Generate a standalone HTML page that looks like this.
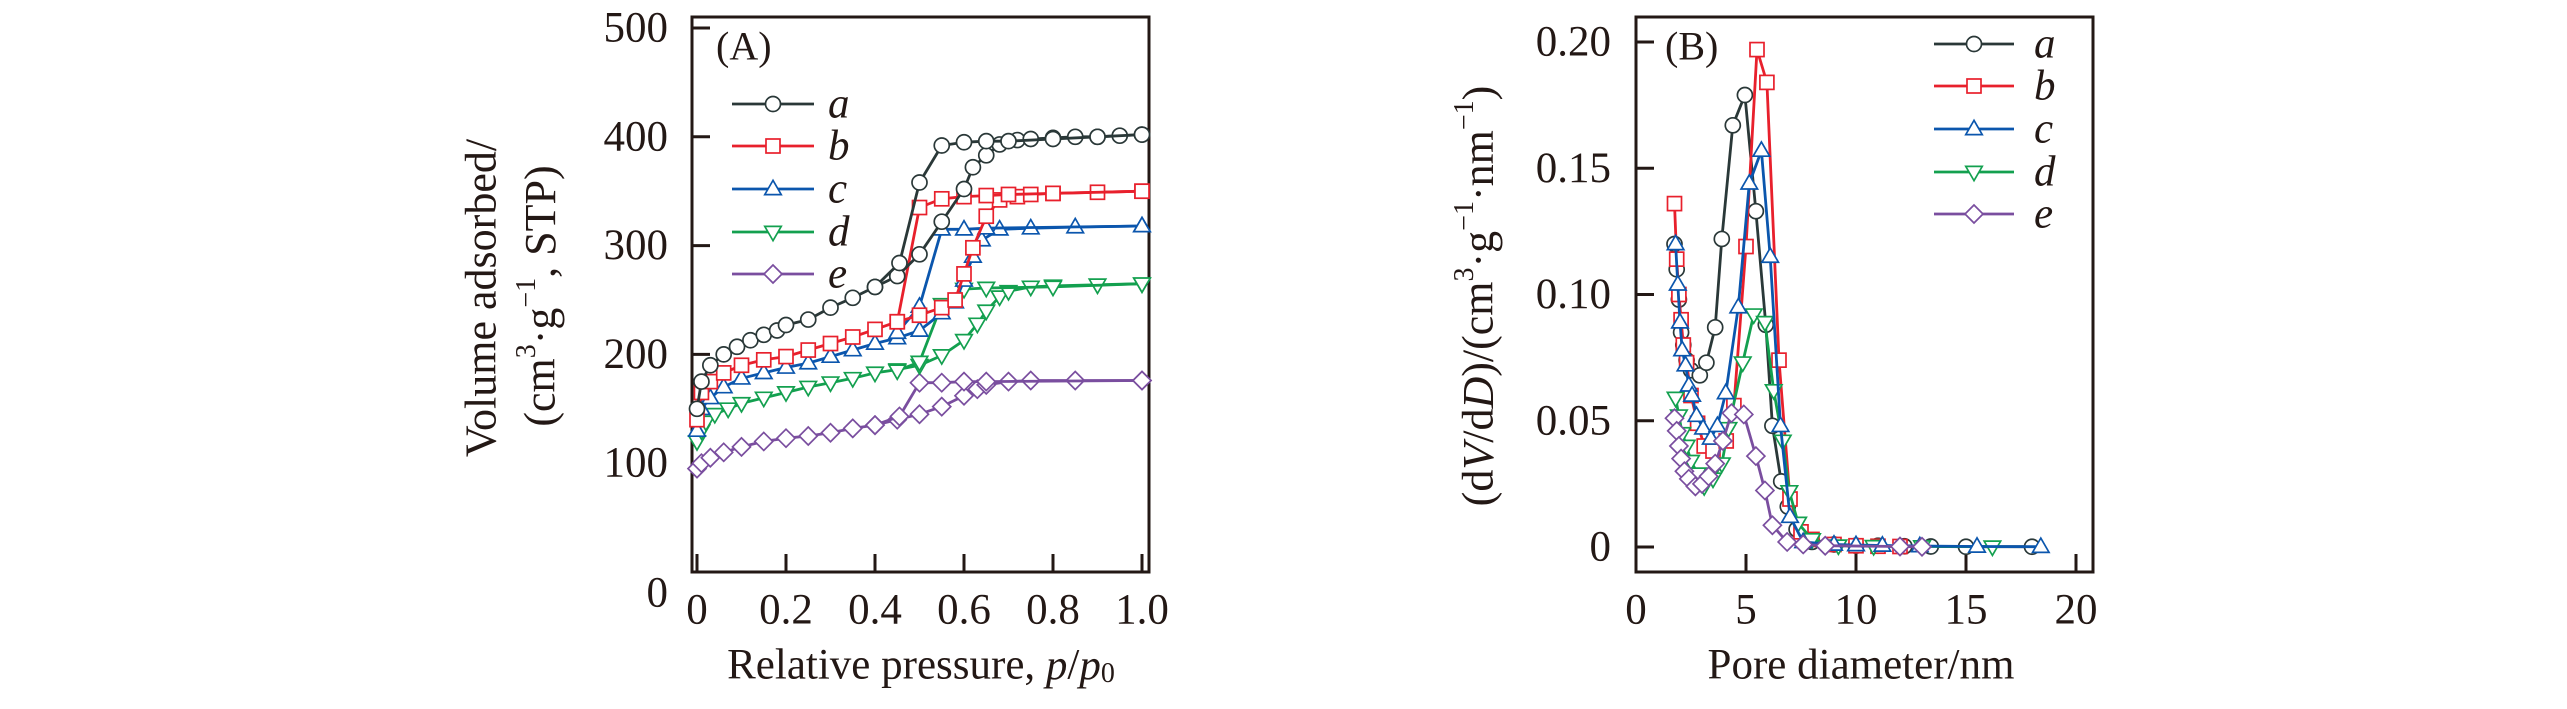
<!DOCTYPE html>
<html><head><meta charset="utf-8"><style>
html,body{margin:0;padding:0;background:#fff;}
svg{display:block;font-family:"Liberation Serif",serif;}
</style></head><body>
<svg id="chart" width="2567" height="709" viewBox="0 0 2567 709" xmlns="http://www.w3.org/2000/svg" style="position:absolute;left:0;top:0">
<rect width="2567" height="709" fill="#fff"/>
<g id="panelA"></g>
<g id="panelB"></g>
</svg>
<script>
// ---------- Panel A data (isotherms) ----------
const aTicksX = [0, 0.2, 0.4, 0.6, 0.8, 1.0];
const aTickLabelsX = ["0", "0.2", "0.4", "0.6", "0.8", "1.0"];
const aTicksY = [0, 100, 200, 300, 400, 500];
const aTickLabelsY = ["0", "100", "200", "300", "400", "500"];

const isoA_adsP = [0,0.01,0.03,0.06,0.09,0.12,0.15,0.18,0.2,0.25,0.3,0.35,0.4,0.45,0.5,0.55,0.6,0.62,0.65,0.68,0.72,0.75,0.8,0.85,0.9,0.95,1.0];
const isoA_adsV = [150,175,190,200,207,213,218,222,227,232,243,252,262,272,292,322,352,372,383,393,397,398,399,400,400,401,402];
const isoA_desP = [1.0,0.9,0.8,0.7,0.65,0.6,0.55,0.5,0.455,0.4];
const isoA_desV = [402,400,398,396,396,395,392,358,284,262];

const isoB_adsP = [0,0.01,0.03,0.06,0.1,0.15,0.2,0.25,0.3,0.35,0.4,0.45,0.5,0.55,0.58,0.6,0.62,0.65,0.68,0.72,0.75,0.8,0.9,1.0];
const isoB_adsV = [140,165,175,183,190,195,198,204,210,216,223,230,236,243,250,274,298,327,342,345,347,348,349,350];
const isoB_desP = [1.0,0.8,0.7,0.65,0.6,0.55,0.5,0.45];
const isoB_desV = [350,348,347,346,345,343,335,230];

const isoC_adsP = [0,0.01,0.03,0.06,0.1,0.15,0.2,0.25,0.3,0.35,0.4,0.45,0.5,0.55,0.58,0.6,0.62,0.64,0.68,0.75,0.85,1.0];
const isoC_adsV = [130,150,160,170,178,183,188,192,198,204,210,215,222,238,248,268,290,305,315,316,317,318];
const isoC_desP = [1.0,0.65,0.6,0.55,0.5,0.45];
const isoC_desV = [318,316,315,315,244,220];

const isoD_adsP = [0,0.01,0.02,0.04,0.07,0.1,0.15,0.2,0.25,0.3,0.35,0.4,0.45,0.5,0.55,0.6,0.63,0.65,0.68,0.7,0.75,0.8,0.9,1.0];
const isoD_adsV = [120,130,138,145,150,155,160,165,170,174,178,183,186,190,199,213,228,240,253,258,262,263,264,265];
const isoD_desP = [1.0,0.8,0.65,0.6,0.55,0.5,0.45];
const isoD_desV = [265,262,261,260,246,193,185];

const isoE_adsP = [0,0.01,0.03,0.06,0.1,0.15,0.2,0.25,0.3,0.35,0.4,0.45,0.5,0.55,0.6,0.63,0.65,0.7,0.75,0.85,1.0];
const isoE_adsV = [95,100,105,110,115,120,123,125,128,132,135,140,145,152,162,168,172,175,176,176,176];
const isoE_desP = [1.0,0.65,0.6,0.55,0.5,0.455,0.4];
const isoE_desV = [176,175,175,174,174,143,135];

// ---------- Panel B data (pore size distribution) ----------
const bTicksX = [0, 5, 10, 15, 20];
const bTickLabelsX = ["0", "5", "10", "15", "20"];
const bTicksY = [0, 0.05, 0.10, 0.15, 0.20];
const bTickLabelsY = ["0", "0.05", "0.10", "0.15", "0.20"];

const psdA_D = [1.75,1.85,1.95,2.05,2.15,2.3,2.5,2.9,3.2,3.6,3.9,4.4,4.95,5.45,5.9,6.2,6.6,6.9,7.3,8,9,10,11,12.2,13.4,15,18];
const psdA_V = [0.12,0.11,0.098,0.085,0.08,0.074,0.07,0.068,0.073,0.087,0.122,0.167,0.179,0.133,0.088,0.048,0.026,0.016,0.007,0.002,0.001,0.0005,0.0005,0.0003,0.0002,0.0001,0.0001];
const psdB_D = [1.75,1.85,1.95,2.05,2.15,2.3,2.5,2.8,3.1,3.5,4.1,4.45,5.0,5.5,5.95,6.5,7.0,7.5,8,9,10,11,12];
const psdB_V = [0.136,0.114,0.1,0.09,0.08,0.073,0.06,0.049,0.04,0.038,0.042,0.056,0.119,0.197,0.184,0.074,0.019,0.006,0.003,0.001,0.0005,0.0003,0.0002];
const psdC_D = [1.8,1.9,2.0,2.1,2.25,2.4,2.55,2.75,3.05,3.4,3.7,4.08,4.65,5.15,5.7,6.1,6.57,7.0,7.6,9,10,11.2,12.9,15.5,18.4];
const psdC_V = [0.12,0.104,0.089,0.078,0.072,0.064,0.06,0.052,0.047,0.043,0.048,0.061,0.095,0.144,0.157,0.115,0.048,0.012,0.002,0.001,0.0008,0.0006,0.0004,0.0002,0.0001];
const psdD_D = [1.8,1.95,2.1,2.3,2.5,2.8,3.1,3.5,3.9,4.2,4.85,5.35,5.86,6.26,6.67,6.97,7.37,8.0,9.2,10.8,13,16.2];
const psdD_V = [0.059,0.052,0.045,0.04,0.034,0.029,0.024,0.027,0.033,0.047,0.073,0.092,0.089,0.062,0.042,0.022,0.0095,0.003,0.0005,0.0003,0.0002,0.0001];
const psdE_D = [1.75,1.85,1.95,2.05,2.2,2.4,2.7,3.0,3.3,3.6,3.95,4.34,4.9,5.45,5.86,6.2,6.87,7.6,8.6,12,13];
const psdE_V = [0.051,0.046,0.04,0.035,0.03,0.027,0.024,0.025,0.028,0.033,0.042,0.053,0.0525,0.036,0.0224,0.0086,0.002,0.001,0.0005,0.0002,0.0001];

const COLORS = {a:"#2a3838", b:"#e8202c", c:"#0b56ad", d:"#13a04f", e:"#7a4e9f"};
const NS = "http://www.w3.org/2000/svg";
function mk(tag, attrs, parent){
  const el = document.createElementNS(NS, tag);
  for (const k in attrs) el.setAttribute(k, attrs[k]);
  if (parent) parent.appendChild(el);
  return el;
}
const ax = v => 697 + v * (1142 - 697);
const ay = v => 572 - v * (572 - 28) / 500;
const bx = v => 1636 + v * (2076 - 1636) / 20;
const by = v => 547 - v * (547 - 42) / 0.20;

function marker(g, type, x, y, color, r){
  let el;
  if (type === "circle") el = mk("circle", {cx:x, cy:y, r:r}, g);
  else if (type === "square") el = mk("rect", {x:x-r+0.5, y:y-r+0.5, width:2*r-1, height:2*r-1}, g);
  else if (type === "tri-up") el = mk("polygon", {points:`${x},${y-r*1.15} ${x-r*1.1},${y+r*0.75} ${x+r*1.1},${y+r*0.75}`}, g);
  else if (type === "tri-down") el = mk("polygon", {points:`${x},${y+r*1.15} ${x-r*1.1},${y-r*0.75} ${x+r*1.1},${y-r*0.75}`}, g);
  else el = mk("polygon", {points:`${x},${y-r*1.2} ${x+r*1.2},${y} ${x},${y+r*1.2} ${x-r*1.2},${y}`}, g);
  el.setAttribute("fill", "#fff");
  el.setAttribute("stroke", color);
  el.setAttribute("stroke-width", "1.7");
  return el;
}
const TYPES = {a:"circle", b:"square", c:"tri-up", d:"tri-down", e:"diamond"};

function drawSeries(parent, key, xs, ys, sx, sy, name){
  const g = mk("g", {}, parent);
  
  
  const pts = xs.map((v,i)=>`${sx(v).toFixed(1)},${sy(ys[i]).toFixed(1)}`).join(" ");
  const line = mk("polyline", {points:pts, fill:"none", stroke:COLORS[key], "stroke-width":"2.8", "stroke-linejoin":"round"}, g);
  
  
  xs.forEach((v,i)=>{
    const m = marker(g, TYPES[key], sx(v), sy(ys[i]), COLORS[key], 7.5);
    
    
  });
}

function frame(parent, x0, y0, x1, y1, name){
  const r = mk("rect", {x:x0, y:y0, width:x1-x0, height:y1-y0, fill:"none", stroke:"#231815", "stroke-width":"3"}, parent);
  
  
}
function text(parent, x, y, str, size, anchor, name, extra){
  const t = mk("text", Object.assign({x:x, y:y, "font-size":size, "text-anchor":anchor, fill:"#231815", "dominant-baseline":"central"}, extra||{}), parent);
  t.textContent = str;
  
  
  return t;
}

// ---------- Panel A ----------
const A = document.getElementById("panelA");
frame(A, 692, 17, 1149, 572, "plot-frame-a");
aTicksX.forEach((v,i)=>{
  const t = mk("line", {x1:ax(v), x2:ax(v), y1:572, y2:554, stroke:"#231815", "stroke-width":"3"}, A);
  
  
  text(A, ax(v), 610, aTickLabelsX[i], 43, "middle", "x-tick-label-a");
});
aTicksY.forEach((v,i)=>{
  if (v > 0) {
    const t = mk("line", {x1:692, x2:710, y1:ay(v), y2:ay(v), stroke:"#231815", "stroke-width":"3"}, A);
    
    
  }
  text(A, 668, v === 0 ? 593 : ay(v), aTickLabelsY[i], 43, "end", "y-tick-label-a");
});
drawSeries(A, "e", isoE_adsP, isoE_adsV, ax, ay, "series-e-adsorption");
drawSeries(A, "e", isoE_desP, isoE_desV, ax, ay, "series-e-desorption");
drawSeries(A, "d", isoD_adsP, isoD_adsV, ax, ay, "series-d-adsorption");
drawSeries(A, "d", isoD_desP, isoD_desV, ax, ay, "series-d-desorption");
drawSeries(A, "c", isoC_adsP, isoC_adsV, ax, ay, "series-c-adsorption");
drawSeries(A, "c", isoC_desP, isoC_desV, ax, ay, "series-c-desorption");
drawSeries(A, "b", isoB_adsP, isoB_adsV, ax, ay, "series-b-adsorption");
drawSeries(A, "b", isoB_desP, isoB_desV, ax, ay, "series-b-desorption");
drawSeries(A, "a", isoA_adsP, isoA_adsV, ax, ay, "series-a-adsorption");
drawSeries(A, "a", isoA_desP, isoA_desV, ax, ay, "series-a-desorption");
text(A, 716, 46, "(A)", 40, "start", "panel-label-a");

// ---------- Panel B ----------
const B = document.getElementById("panelB");
frame(B, 1636, 17, 2093, 572, "plot-frame-b");
bTicksX.forEach((v,i)=>{
  if (v > 0) {
    const t = mk("line", {x1:bx(v), x2:bx(v), y1:572, y2:554, stroke:"#231815", "stroke-width":"3"}, B);
    
    
  }
  text(B, bx(v), 610, bTickLabelsX[i], 43, "middle", "x-tick-label-b");
});
bTicksY.forEach((v,i)=>{
  const t = mk("line", {x1:1636, x2:1654, y1:by(v), y2:by(v), stroke:"#231815", "stroke-width":"3"}, B);
  
  
  text(B, 1611, by(v), bTickLabelsY[i], 43, "end", "y-tick-label-b");
});
drawSeries(B, "a", psdA_D, psdA_V, bx, by, "series-a-psd");
drawSeries(B, "b", psdB_D, psdB_V, bx, by, "series-b-psd");
drawSeries(B, "d", psdD_D, psdD_V, bx, by, "series-d-psd");
drawSeries(B, "c", psdC_D, psdC_V, bx, by, "series-c-psd");
drawSeries(B, "e", psdE_D, psdE_V, bx, by, "series-e-psd");
text(B, 1665, 46, "(B)", 40, "start", "panel-label-b");

// ---------- Legends ----------
const legendKeys = ["a","b","c","d","e"];
const legAY = [104,146,189,232,274];
const legBY = [44,86,129,172,214];
function legend(parent, x0, x1, ys, lx, name){
  const lg = mk("g", {}, parent);
  
  
  legendKeys.forEach((k,i)=>{
    const e = mk("g", {}, lg);
    
    
    mk("line", {x1:x0, x2:x1, y1:ys[i], y2:ys[i], stroke:COLORS[k], "stroke-width":"2.8"}, e);
    marker(e, TYPES[k], (x0+x1)/2, ys[i], COLORS[k], 7.5);
    text(e, lx, ys[i], k, 43, "start", "legend-label-" + k, {"font-style":"italic"});
  });
}
legend(A, 732, 814, legAY, 828, "legend-a");
legend(B, 1934, 2014, legBY, 2034, "legend-b");
</script>
<svg style="position:absolute;left:0;top:0" width="2567" height="709">
  <text x="921" y="665" font-family="Liberation Serif, serif" font-size="43" text-anchor="middle" dominant-baseline="central" fill="#231815">Relative pressure, <tspan font-style="italic">p</tspan>/<tspan font-style="italic">p</tspan><tspan font-size="28" dy="8">0</tspan></text>
  <text transform="translate(481,298) rotate(-90)" font-family="Liberation Serif, serif" font-size="44" text-anchor="middle" dominant-baseline="central" fill="#231815">Volume adsorbed/</text>
  <text transform="translate(540,296) rotate(-90)" font-family="Liberation Serif, serif" font-size="44" text-anchor="middle" dominant-baseline="central" fill="#231815">(cm<tspan font-size="28" dy="-14">3</tspan><tspan dy="14">·g</tspan><tspan font-size="28" dy="-14">−1</tspan><tspan dy="14">, STP)</tspan></text>
  <text x="1861" y="665" font-family="Liberation Serif, serif" font-size="43" text-anchor="middle" dominant-baseline="central" fill="#231815">Pore diameter/nm</text>
  <text transform="translate(1478,296) rotate(-90)" font-family="Liberation Serif, serif" font-size="44" text-anchor="middle" dominant-baseline="central" fill="#231815">(d<tspan font-style="italic">V</tspan>/d<tspan font-style="italic">D</tspan>)/(cm<tspan font-size="28" dy="-14">3</tspan><tspan dy="14">·g</tspan><tspan font-size="28" dy="-14">−1</tspan><tspan dy="14">·nm</tspan><tspan font-size="28" dy="-14">−1</tspan><tspan dy="14">)</tspan></text>
</svg>
</body></html>
